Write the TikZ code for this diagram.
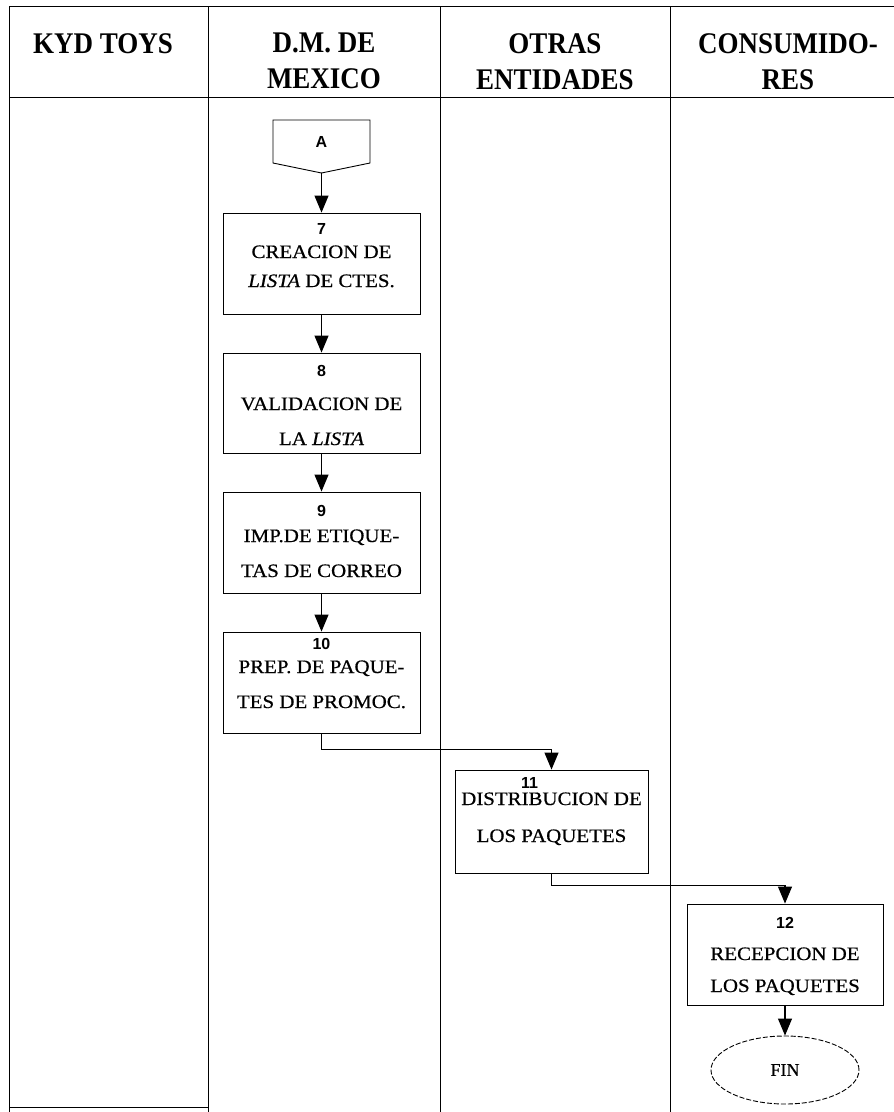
\documentclass[tikz,border=0pt]{standalone}
\usepackage{fontspec}
\setmainfont{Liberation Serif}
\newfontfamily\hdfont[FakeStretch=0.9]{Liberation Serif}
\newfontfamily\bxfont[FakeStretch=1.1,FakeBold=0.6]{Liberation Serif}
\newfontfamily\nmfont{Liberation Sans}
\newfontfamily\finfont[FakeBold=0.6]{Liberation Serif}
\usetikzlibrary{arrows.meta,shapes.geometric}
\newcommand\nf{\nmfont\bfseries\fontsize{16}{30}\selectfont}
\tikzset{
  lane/.style={line width=0.8pt},
  hdr/.style={font=\hdfont\bfseries\fontsize{30}{36}\selectfont, align=center, inner sep=0pt, anchor=north},
  pbox/.style={draw, line width=0.9pt, inner sep=0pt, align=center, font=\bxfont\fontsize{19}{30}\selectfont},
  arr/.style={line width=1.1pt, -{Triangle[length=17pt,width=14pt]}},
  endnode/.style={draw, ellipse, line width=0.9pt, dash pattern=on 5pt off 2pt, minimum width=148pt, minimum height=68pt, inner sep=0pt, font=\finfont\fontsize{18}{20}\selectfont},
}
\begin{document}
\begin{tikzpicture}[x=1pt,y=-1pt]
\useasboundingbox[fill=white] (0,0) rectangle (894,1112);
% swimlane frame
\draw[lane] (9,6) -- (894,6);
\draw[lane] (9,97) -- (894,97);
\draw[lane] (9,6) -- (9,1112);
\draw[lane] (208,6) -- (208,1112);
\draw[lane] (440,6) -- (440,1112);
\draw[lane] (670,6) -- (670,1112);
\draw[lane] (9,1107) -- (208,1107);
% headers
\node[hdr] (h1) at (103,33) {KYD TOYS};
\node[hdr] (h2) at (324,33) {D.M. DE\\MEXICO};
\node[hdr] (h3) at (555,33) {OTRAS\\ENTIDADES};
\node[hdr] (h4) at (788,33) {CONSUMIDO-\\RES};
% off-page connector A
\draw[line width=0.9pt] (273,120) -- (370,120) -- (370,163) -- (321.5,173) -- (273,163) -- cycle;
\node[font=\nmfont\bfseries\fontsize{16}{18}\selectfont, inner sep=0pt] (A) at (321.5,142) {A};
\coordinate (Atip) at (321.5,173);
% process boxes
\node[pbox, minimum width=197pt, minimum height=101pt] (b7) at (321.5,263.5)
  {\rule{0pt}{21pt}{\nf 7}\\[-6pt]CREACION DE\\[-1pt]{\itshape LISTA} DE CTES.\rule[-27pt]{0pt}{27pt}};
\node[pbox, minimum width=197pt, minimum height=100pt] (b8) at (321.5,403)
  {\rule{0pt}{23pt}{\nf 8}\\[4pt]VALIDACION DE\\[5pt]LA {\itshape LISTA}\rule[-8pt]{0pt}{8pt}};
\node[pbox, minimum width=197pt, minimum height=101pt] (b9) at (321.5,542.5)
  {\rule{0pt}{24pt}{\nf 9}\\[-4pt]IMP.DE ETIQUE-\\[5pt]TAS DE CORREO\rule[-16pt]{0pt}{16pt}};
\node[pbox, minimum width=197pt, minimum height=101pt] (b10) at (321.5,682.5)
  {\rule{0pt}{17pt}{\nf 10}\\[-6pt]PREP. DE PAQUE-\\[5pt]TES DE PROMOC.\rule[-25pt]{0pt}{25pt}};
\node[pbox, minimum width=193pt, minimum height=103pt] (b11) at (551.5,821.5)
  {\rule{0pt}{18pt}{\nf 11}\rule{44pt}{0pt}\\[-13pt]DISTRIBUCION DE\\[7pt]LOS PAQUETES\rule[-31pt]{0pt}{31pt}};
\node[pbox, minimum width=196pt, minimum height=101pt] (b12) at (785,954.5)
  {\rule{0pt}{24pt}{\nf 12}\\[2pt]RECEPCION DE\\[2pt]LOS PAQUETES\rule[-13pt]{0pt}{13pt}};
\node[endnode] (fin) at (785,1070) {FIN};
% connectors
\draw[arr] (Atip) -- (b7.north);
\draw[arr] (b7.south) -- (b8.north);
\draw[arr] (b8.south) -- (b9.north);
\draw[arr] (b9.south) -- (b10.north);
\draw[arr] (b10.south) -- ++(0,16) -| (b11.north);
\draw[arr] (b11.south) -- ++(0,12) -| (b12.north);
\draw[arr] (b12.south) -- (fin.north);
\end{tikzpicture}
\end{document}
